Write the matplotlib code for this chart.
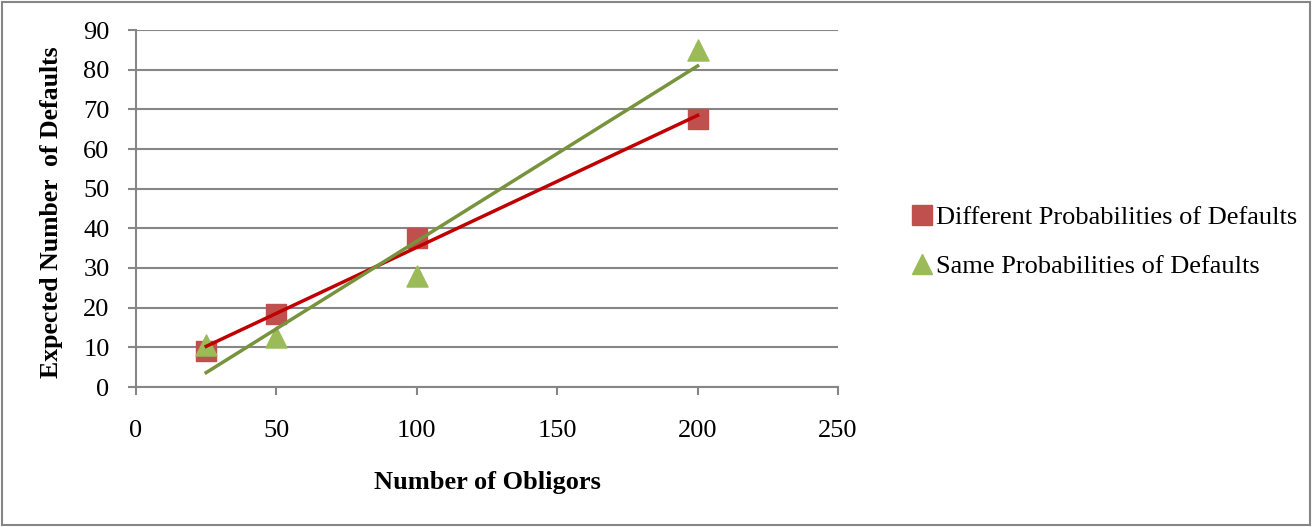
import numpy as np
import matplotlib.pyplot as plt
from matplotlib.lines import Line2D
from matplotlib.patches import Rectangle

obligors = [25, 50, 100, 200]
diff_pd = [9, 18.5, 37.5, 67.5]
same_pd = [10.5, 12.5, 28, 85]
labels = ['Different Probabilities of Defaults', 'Same Probabilities of Defaults']

plt.rcParams['font.family'] = ['Liberation Serif', 'DejaVu Serif']

fig = plt.figure(figsize=(13.12, 5.27), dpi=100)
ax = fig.add_axes([136 / 1312, 1 - 387 / 527, (838 - 136) / 1312, (387 - 30) / 527])

ax.scatter(obligors, diff_pd, marker='s', s=200, color='#C0504D', zorder=3)
ax.scatter(obligors, same_pd, marker='^', s=230, color='#9BBB59', zorder=4)

# linear trend lines
x = np.array(obligors)
k1, b1 = np.polyfit(x, diff_pd, 1)
k2, b2 = np.polyfit(x, same_pd, 1)
xs = np.array([25, 200])
ax.plot(xs, k1 * xs + b1, color='#C00000', lw=2.5, zorder=5)
ax.plot(xs, k2 * xs + b2, color='#77933C', lw=2.5, zorder=5)

ax.set_xlim(0, 250)
ax.set_ylim(0, 90)
ax.set_xticks(range(0, 251, 50))
ax.set_yticks(range(0, 91, 10))
ax.grid(axis='y', color='#868686', lw=1.5)
ax.set_axisbelow(True)
for s in ['top', 'right']:
    ax.spines[s].set_visible(False)
for s in ['left', 'bottom']:
    ax.spines[s].set_color('#868686')
    ax.spines[s].set_linewidth(1.5)
ax.tick_params(colors='#868686', width=1.5, length=6, labelcolor='black', labelsize=19)
ax.tick_params(axis='x', pad=18)
ax.tick_params(axis='y', pad=13)

fig.text(487 / 1312, 1 - 482 / 527, 'Number of Obligors', ha='center', va='center',
         fontsize=19, fontweight='bold')
fig.text(52 / 1312, 1 - 212 / 527, 'Expected Number  of Defaults', ha='center', va='center',
         rotation=90, fontsize=18.5, fontweight='bold')

handles = [Line2D([], [], marker='s', ls='none', color='#C0504D', markersize=14),
           Line2D([], [], marker='^', ls='none', color='#9BBB59', markersize=14)]
fig.legend(handles, labels, loc='center left', bbox_to_anchor=(885 / 1312, 1 - 242 / 527),
           frameon=False, fontsize=19, handletextpad=0.05, handlelength=1.0, labelspacing=0.95)

fig.patches.append(Rectangle((2 / 1312, 2 / 527), 1 - 4 / 1312, 1 - 4 / 527,
                             transform=fig.transFigure, fill=False, ec='#868686', lw=1.5))

fig.savefig('out.png', dpi=100)
